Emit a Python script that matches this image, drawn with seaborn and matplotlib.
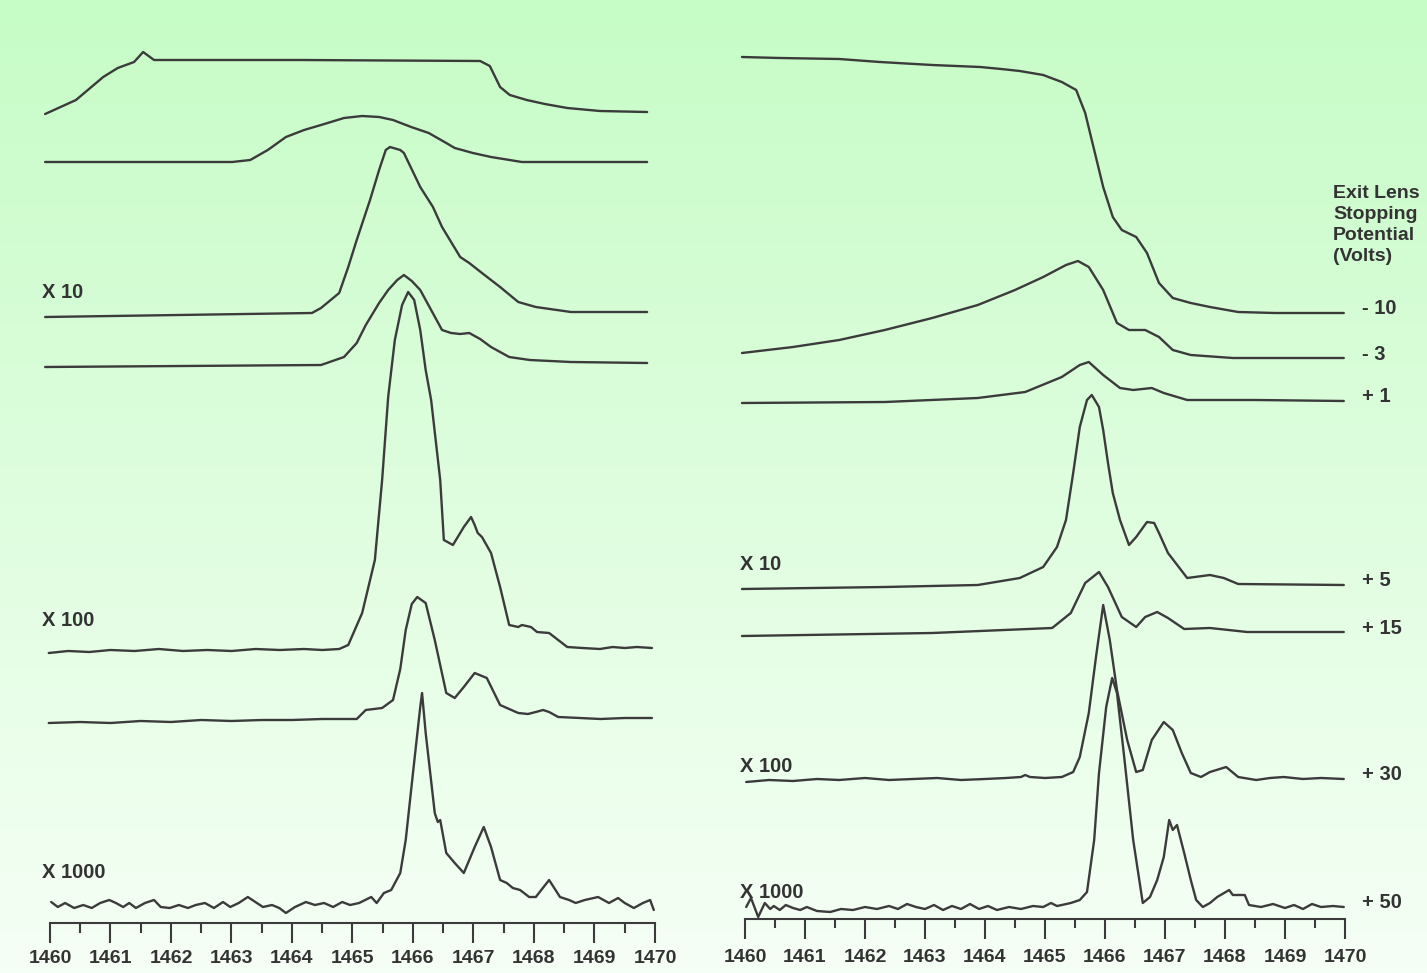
import numpy as np
import pandas as pd
import seaborn as sns
import matplotlib.pyplot as plt

# === energy grid (eV) and signal heights ===
# left panel: varying spectrometer setting, top to bottom
A_E = [1459.92, 1460.43, 1460.88, 1461.12, 1461.39, 1461.54, 1461.72, 1464.13, 1467.11, 1467.27,
       1467.44, 1467.60, 1467.88, 1468.18, 1468.55, 1469.09, 1469.87]
A_h = [-2, 12, 35, 44, 50, 60, 52, 52, 51, 46, 25, 17, 12, 8, 4, 1, 0]

B_E = [1459.92, 1463.01, 1463.31, 1463.60, 1463.90, 1464.20, 1464.48, 1464.86, 1465.16, 1465.44,
       1465.67, 1465.97, 1466.26, 1466.55, 1466.69, 1466.99, 1467.29, 1467.80, 1469.87]
B_h = [0, 0, 2, 12, 25, 32, 37, 44, 46, 45, 42, 35, 29, 19, 14, 9, 5, 0, 0]

C_E = [1459.92, 1464.33, 1464.48, 1464.78, 1464.93, 1465.07, 1465.29, 1465.44, 1465.55, 1465.62,
       1465.79, 1465.85, 1466.12, 1466.33, 1466.48, 1466.78, 1466.93, 1467.14, 1467.44, 1467.74,
       1468.03, 1468.61, 1469.87]
C_h = [-2, 2, 7, 22, 48, 75, 115, 145, 165, 168, 165, 162, 128, 108, 88, 58, 52, 42, 28, 13, 8, 3, 3]

D_E = [1459.92, 1464.48, 1464.86, 1465.07, 1465.22, 1465.44, 1465.59, 1465.74, 1465.85, 1465.98,
       1466.12, 1466.30, 1466.48, 1466.63, 1466.78, 1466.93, 1467.11, 1467.29, 1467.59, 1467.93,
       1468.61, 1469.87]
D_h = [-2, 0, 8, 22, 40, 62, 75, 85, 90, 84, 75, 55, 35, 32, 31, 32, 26, 18, 8, 5, 3, 2]

E_E = [1459.98, 1460.30, 1460.65, 1461.00, 1461.40, 1461.80, 1462.20, 1462.60, 1463.00, 1463.40,
       1463.80, 1464.20, 1464.50, 1464.78, 1464.93, 1465.16, 1465.37, 1465.49, 1465.59, 1465.70,
       1465.82, 1465.92, 1466.02, 1466.12, 1466.21, 1466.30, 1466.45, 1466.51, 1466.66, 1466.84,
       1466.96, 1467.02, 1467.07, 1467.14, 1467.29, 1467.44, 1467.59, 1467.74, 1467.80, 1467.95,
       1468.05, 1468.25, 1468.40, 1468.55, 1468.80, 1469.09, 1469.30, 1469.50, 1469.70, 1469.95]
E_h = [-3, -1, -2, 0, -1, 1, -1, 0, -1, 1,
       0, 1, 0, 1, 5, 37, 90, 170, 253, 310,
       345, 358, 350, 320, 280, 250, 170, 110, 105, 123,
       133, 125, 117, 113, 97, 63, 25, 23, 25, 23,
       18, 17, 10, 3, 2, 1, 3, 2, 3, 2]

F_E = [1459.98, 1460.50, 1461.00, 1461.50, 1462.00, 1462.50, 1463.00, 1463.50, 1464.00, 1464.50,
       1465.07, 1465.22, 1465.49, 1465.67, 1465.79, 1465.88, 1465.98, 1466.07, 1466.21, 1466.36,
       1466.55, 1466.69, 1466.84, 1467.02, 1467.22, 1467.44, 1467.74, 1467.90, 1468.03, 1468.15,
       1468.25, 1468.40, 1468.76, 1469.10, 1469.50, 1469.95]
F_h = [-4, -3, -4, -2, -3, -1, -2, -1, -1, 0,
       0, 9, 11, 19, 50, 89, 115, 122, 116, 79,
       26, 21, 32, 46, 41, 14, 6, 5, 7, 9,
       7, 2, 1, 0, 1, 1]

G_E = [1460.02, 1460.13, 1460.25, 1460.40, 1460.55, 1460.69, 1460.83, 1460.98, 1461.09, 1461.21,
       1461.31, 1461.42, 1461.57, 1461.72, 1461.83, 1461.98, 1462.13, 1462.28, 1462.41, 1462.56,
       1462.71, 1462.86, 1462.98, 1463.12, 1463.27, 1463.42, 1463.52, 1463.67, 1463.79, 1463.90,
       1464.05, 1464.23, 1464.38, 1464.53, 1464.68, 1464.83, 1464.96, 1465.11, 1465.31, 1465.40,
       1465.52, 1465.64, 1465.79, 1465.88, 1466.00, 1466.12, 1466.15, 1466.21, 1466.36, 1466.41,
       1466.45, 1466.55, 1466.69, 1466.84, 1467.02, 1467.17, 1467.29, 1467.44, 1467.55, 1467.65,
       1467.77, 1467.92, 1468.03, 1468.25, 1468.43, 1468.58, 1468.69, 1468.84, 1469.06, 1469.24,
       1469.39, 1469.50, 1469.65, 1469.80, 1469.92, 1469.98]
G_h = [1, -4, 0, -5, -2, -5, 0, 3, 0, -4,
       0, -5, 0, 3, -4, -5, -2, -5, -2, 0,
       -5, 1, -4, 0, 6, 0, -4, -2, -5, -10,
       -4, 1, -2, 0, -4, 1, -2, 0, 6, 0,
       10, 13, 30, 63, 130, 196, 210, 170, 90, 81,
       83, 50, 40, 30, 56, 76, 56, 23, 20, 15,
       13, 6, 6, 23, 6, 3, 0, 3, 6, 0,
       5, 0, -5, 0, 3, -7]

LEFT_OFFSETS = [861, 811, 658, 608, 323, 254, 70]
LEFT_GAIN = ["X 10", "X 100", "X 1000"]

# right panel: exit lens stopping potential series
R1_E = [1459.95, 1460.58, 1461.57, 1462.25, 1463.12, 1463.92, 1464.27, 1464.58, 1464.97, 1465.28,
        1465.52, 1465.67, 1465.82, 1465.97, 1466.13, 1466.28, 1466.52, 1466.70, 1466.90, 1467.13,
        1467.43, 1467.75, 1468.22, 1468.83, 1469.98]
R1_h = [256, 255, 254, 251, 248, 246, 244, 242, 238, 231,
        223, 200, 163, 126, 96, 83, 76, 60, 30, 15,
        10, 6, 1, 0, 0]

R2_E = [1459.95, 1460.80, 1461.57, 1462.33, 1463.12, 1463.88, 1464.50, 1464.97, 1465.35, 1465.55,
        1465.73, 1465.97, 1466.20, 1466.40, 1466.67, 1466.90, 1467.13, 1467.43, 1468.13, 1469.98]
R2_h = [5, 11, 18, 28, 40, 53, 68, 81, 93, 97, 91, 68, 35, 28, 28, 21, 8, 3, 0, 0]

R3_E = [1459.95, 1462.33, 1463.88, 1464.67, 1465.28, 1465.58, 1465.73, 1465.97, 1466.25, 1466.47,
        1466.78, 1466.98, 1467.37, 1468.52, 1469.98]
R3_h = [-2, -1, 3, 9, 24, 36, 39, 26, 13, 11, 13, 8, 1, 1, 0]

R4_E = [1459.95, 1462.33, 1463.88, 1464.58, 1464.97, 1465.20, 1465.35, 1465.47, 1465.58, 1465.70,
        1465.78, 1465.90, 1465.97, 1466.05, 1466.13, 1466.25, 1466.40, 1466.52, 1466.58, 1466.70,
        1466.82, 1466.90, 1467.05, 1467.37, 1467.75, 1467.98, 1468.22, 1469.98]
R4_h = [-4, -2, 0, 7, 18, 38, 65, 112, 158, 185,
        190, 178, 155, 122, 92, 65, 40, 48, 53, 63,
        62, 52, 32, 7, 10, 7, 1, 0]

R5_E = [1459.95, 1463.12, 1465.12, 1465.43, 1465.67, 1465.90, 1466.05, 1466.28, 1466.52, 1466.67,
        1466.87, 1467.05, 1467.32, 1467.75, 1468.37, 1469.98]
R5_h = [-4, -1, 4, 19, 49, 60, 45, 15, 5, 15, 20, 14, 3, 4, 0, 0]

R6_E = [1460.02, 1460.40, 1460.80, 1461.20, 1461.57, 1462.00, 1462.40, 1462.80, 1463.20, 1463.60,
        1464.00, 1464.35, 1464.60, 1464.67, 1464.75, 1465.00, 1465.28, 1465.47, 1465.58, 1465.73,
        1465.85, 1465.97, 1466.08, 1466.20, 1466.37, 1466.52, 1466.63, 1466.78, 1466.98, 1467.13,
        1467.28, 1467.43, 1467.60, 1467.75, 1468.02, 1468.22, 1468.52, 1468.75, 1468.98, 1469.30,
        1469.60, 1469.98]
R6_h = [-3, -1, -2, 0, -1, 1, -1, 0, 1, -1,
        0, 1, 2, 4, 2, 1, 2, 7, 22, 66,
        122, 174, 139, 89, 39, 7, 9, 39, 57, 49,
        26, 6, 2, 7, 12, 2, -1, 1, 2, 0,
        1, 0]

R7_E = [1460.02, 1460.10, 1460.22, 1460.33, 1460.42, 1460.48, 1460.58, 1460.68, 1460.80, 1460.92,
        1461.03, 1461.20, 1461.42, 1461.60, 1461.80, 1462.00, 1462.20, 1462.40, 1462.55, 1462.70,
        1462.85, 1463.00, 1463.15, 1463.30, 1463.45, 1463.60, 1463.75, 1463.90, 1464.05, 1464.20,
        1464.40, 1464.60, 1464.80, 1464.97, 1465.10, 1465.20, 1465.28, 1465.43, 1465.58, 1465.70,
        1465.82, 1465.90, 1466.02, 1466.12, 1466.20, 1466.32, 1466.47, 1466.63, 1466.75, 1466.87,
        1466.98, 1467.07, 1467.13, 1467.20, 1467.32, 1467.43, 1467.52, 1467.63, 1467.75, 1467.87,
        1468.07, 1468.13, 1468.33, 1468.40, 1468.60, 1468.80, 1469.00, 1469.15, 1469.30, 1469.45,
        1469.60, 1469.80, 1469.98]
R7_h = [0, 9, -10, 4, -2, 1, -3, 2, -1, -3,
        0, -4, -5, -2, -3, 0, -2, 1, -2, 3,
        0, -2, 2, -3, 1, -2, 3, -2, 1, -3,
        0, -2, 1, 0, 4, 1, 2, 4, 7, 15,
        67, 134, 200, 229, 214, 150, 67, 4, 10, 27,
        50, 87, 77, 82, 54, 27, 7, 0, 4, 10,
        17, 12, 12, 2, 0, 3, -1, 2, -2, 3,
        0, 1, 0]

RIGHT_OFFSETS = [660, 615, 572, 388, 341, 194, 66]
RIGHT_VOLTS = ["- 10", "- 3", "+ 1", "+ 5", "+ 15", "+ 30", "+ 50"]
RIGHT_GAIN = ["X 10", "X 100", "X 1000"]
TICKS = list(range(1460, 1471))

INK = "#3b3b3b"
W, H = 1427, 973

sns.set_theme(style="white")
plt.rcParams["font.family"] = ["Liberation Sans", "DejaVu Sans"]

fig = plt.figure(figsize=(W / 100, H / 100), dpi=100)

# scanned-page background: green fading to white
bg = fig.add_axes([0, 0, 1, 1], zorder=-10)
top = np.array([198, 252, 198]) / 255
bot = np.array([246, 255, 246]) / 255
t = np.linspace(0, 1, 256)[:, None, None]
bg.imshow(top * (1 - t) + bot * t, aspect="auto", extent=[0, 1, 0, 1])
bg.set_axis_off()

axL = fig.add_axes([0, 0, 700 / W, 1])
axR = fig.add_axes([700 / W, 0, 727 / W, 1])
axL.set_xlim(1459.174, 1470.744)
axR.set_xlim(1459.25, 1471.367)


def draw(ax, traces, offsets):
    for (xs, hs), off in zip(traces, offsets):
        df = pd.DataFrame({"E": xs, "I": np.array(hs) + off})
        sns.lineplot(data=df, x="E", y="I", ax=ax, color=INK, linewidth=1.7,
                     sort=False, estimator=None)


draw(axL, [(A_E, A_h), (B_E, B_h), (C_E, C_h), (D_E, D_h),
           (E_E, E_h), (F_E, F_h), (G_E, G_h)], LEFT_OFFSETS)
draw(axR, [(R1_E, R1_h), (R2_E, R2_h), (R3_E, R3_h), (R4_E, R4_h),
           (R5_E, R5_h), (R6_E, R6_h), (R7_E, R7_h)], RIGHT_OFFSETS)

for ax, base, minor, pad in [(axL, 50, 7.2, 5), (axR, 54, 6.5, 7)]:
    ax.set_facecolor("none")
    ax.set_ylim(0, H)
    ax.set_xlabel("")
    ax.set_ylabel("")
    ax.set_yticks([])
    for s in ["top", "left", "right"]:
        ax.spines[s].set_visible(False)
    sp = ax.spines["bottom"]
    sp.set_position(("data", base))
    sp.set_bounds(1460, 1470)
    sp.set_color(INK)
    sp.set_linewidth(1.5)
    ax.set_xticks(TICKS)
    ax.set_xticks(np.arange(1460.5, 1470, 1.0), minor=True)
    ax.set_xticklabels([str(v) for v in TICKS], fontsize=14, fontweight="bold", color="#333333")
    ax.tick_params(axis="x", which="major", direction="out", length=14.4, width=1.5,
                   color=INK, pad=pad, bottom=True)
    ax.tick_params(axis="x", which="minor", direction="out", length=minor, width=1.5,
                   color=INK, bottom=True)

lab = dict(fontsize=14.5, fontweight="bold", color="#333333", va="center", ha="left")
for txt, off, lift in zip(LEFT_GAIN, [LEFT_OFFSETS[2], LEFT_OFFSETS[4], LEFT_OFFSETS[6]], [23, 30, 31]):
    axL.text(1459.87, off + lift, txt, **lab)
for txt, off, lift in zip(RIGHT_GAIN, [RIGHT_OFFSETS[3], RIGHT_OFFSETS[5], RIGHT_OFFSETS[6]], [20, 13, 15]):
    axR.text(1459.92, off + lift, txt, **lab)
for txt, off in zip(RIGHT_VOLTS, RIGHT_OFFSETS):
    axR.text(1470.28, off + 4, txt, **lab)

axR.text(1469.8, 788, "Exit Lens\nStopping\nPotential\n(Volts)", fontsize=14, fontweight="bold",
         color="#333333", va="top", ha="left", linespacing=1.3)

fig.savefig("out.png", dpi=100)
